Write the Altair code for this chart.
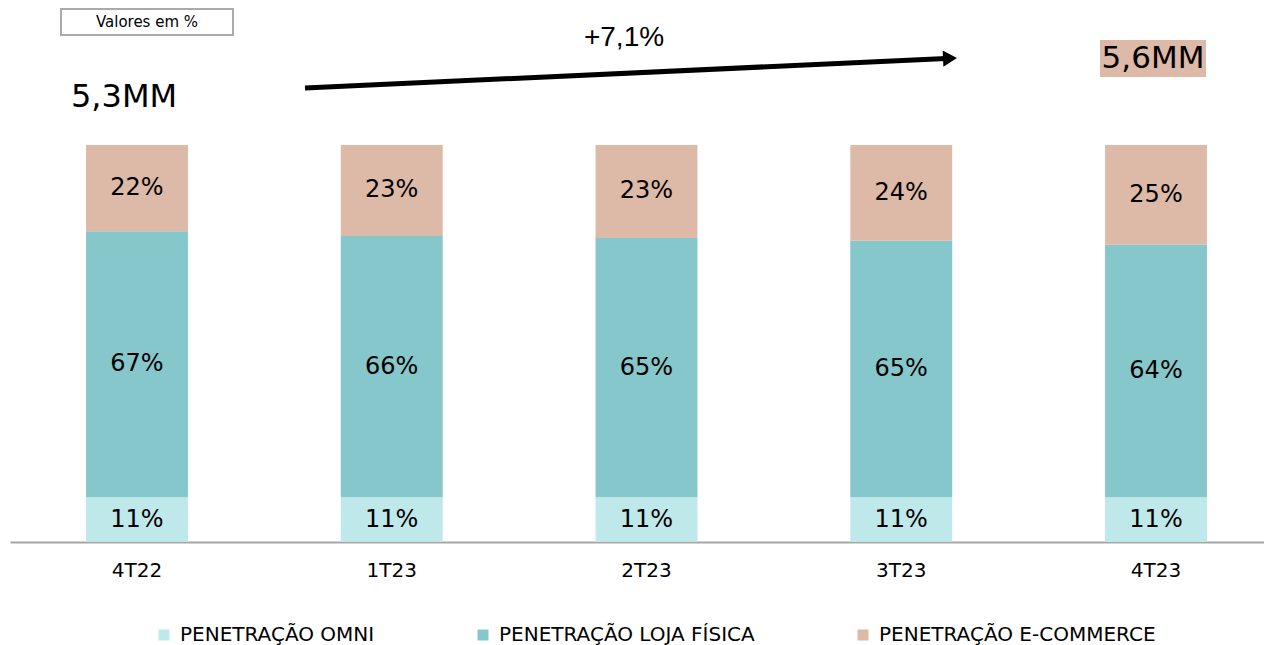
import altair as alt
import pandas as pd

# ---- data ----
periods = ["4T22", "1T23", "2T23", "3T23", "4T23"]
series = ["PENETRAÇÃO OMNI", "PENETRAÇÃO LOJA FÍSICA", "PENETRAÇÃO E-COMMERCE"]
omni = [11.3, 11.3, 11.3, 11.3, 11.3]
loja = [67.0, 65.8, 65.3, 64.6, 63.6]
ecom = [21.7, 22.9, 23.4, 24.1, 25.1]
colors = ["#BEE8EA", "#86C7CB", "#DDB9A7"]

units_note = ["Valores em %"]
start_label = ["5,3MM"]
end_label = ["5,6MM"]
growth_label = ["+7,1%"]

rows = []
for i, p in enumerate(periods):
    for k, (s, vals) in enumerate(zip(series, [omni, loja, ecom])):
        rows.append({"period": p, "series": s, "order": k, "value": vals[i]})
df = pd.DataFrame(rows)

FONT = "DejaVu Sans"

base = (
    alt.Chart(df)
    .transform_stack(
        stack="value",
        groupby=["period"],
        as_=["y0", "y1"],
        sort=[alt.SortField(field="order", order="ascending")],
    )
    .transform_calculate(
        mid="(datum.y0 + datum.y1) / 2",
        label="format(datum.value, '.0f') + '%'",
    )
)

x_enc = alt.X(
    "period:N",
    sort=periods,
    scale=alt.Scale(paddingInner=0.6, paddingOuter=0.2612, align=0.5714),
    axis=alt.Axis(
        title=None,
        labelAngle=0,
        ticks=False,
        tickSize=0,
        domainColor="#A6A6A6",
        domainWidth=2,
        labelFontSize=20,
        labelFont=FONT,
        labelColor="#000000",
        labelPadding=18,
        grid=False,
    ),
)
y_scale = alt.Scale(domain=[0, 100])

bars = base.mark_bar().encode(
    x=x_enc,
    y=alt.Y("y0:Q", scale=y_scale, axis=None),
    y2="y1:Q",
    color=alt.Color(
        "series:N",
        scale=alt.Scale(domain=series, range=colors),
        legend=alt.Legend(
            title=None,
            orient="none",
            legendX=144,
            legendY=480,
            direction="horizontal",
            columns=3,
            symbolType="square",
            symbolSize=121,
            symbolStrokeWidth=0,
            symbolOpacity=1,
            labelFont=FONT,
            labelFontSize=20,
            labelColor="#000000",
            columnPadding=98,
            labelOffset=6,
            labelLimit=600,
            padding=0,
        ),
    ),
)

texts = base.mark_text(font=FONT, fontSize=24, color="#000000").encode(
    x=alt.X("period:N", sort=periods),
    y=alt.Y("mid:Q", scale=y_scale, axis=None),
    text="label:N",
)

# ---- annotations ----
note_df = pd.DataFrame({"t": units_note})
note_box = alt.Chart(note_df).mark_rect(fill="white", stroke="#AAAAAA", strokeWidth=2).encode(
    x=alt.value(51), x2=alt.value(223), y=alt.value(-136), y2=alt.value(-110)
)
note_text = alt.Chart(note_df).mark_text(font=FONT, fontSize=15, color="#000000").encode(
    x=alt.value(137), y=alt.value(-123), text="t:N"
)

start_df = pd.DataFrame({"t": start_label})
start_text = alt.Chart(start_df).mark_text(
    font=FONT, fontSize=32, color="#000000", align="left", baseline="middle"
).encode(x=alt.value(61), y=alt.value(-48), text="t:N")

end_df = pd.DataFrame({"t": end_label})
end_box = alt.Chart(end_df).mark_rect(fill="#DDB9A7").encode(
    x=alt.value(1090), x2=alt.value(1196), y=alt.value(-105), y2=alt.value(-68)
)
end_text = alt.Chart(end_df).mark_text(
    font=FONT, fontSize=31, color="#000000", baseline="middle"
).encode(x=alt.value(1143), y=alt.value(-86), text="t:N")

growth_df = pd.DataFrame({"t": growth_label})
growth_text = alt.Chart(growth_df).mark_text(
    font="Liberation Sans", fontSize=28, color="#000000", baseline="middle"
).encode(x=alt.value(614), y=alt.value(-107), text="t:N")

arrow_line = alt.Chart(growth_df).mark_rule(color="#000000", strokeWidth=5).encode(
    x=alt.value(295), y=alt.value(-57), x2=alt.value(936), y2=alt.value(-86.5)
)
arrow_head = alt.Chart(growth_df).mark_point(
    shape="triangle-right", filled=True, color="#000000", size=260, opacity=1, angle=357.4
).encode(x=alt.value(940), y=alt.value(-86.7))

chart = (
    alt.layer(
        bars, texts, note_box, note_text, start_text, end_box, end_text,
        growth_text, arrow_line, arrow_head
    )
    .properties(
        width=1254,
        height=397,
        autosize=alt.AutoSizeParams(type="none"),
        padding={"left": 2, "top": 137, "right": 0, "bottom": 106},
        background="white",
    )
    .configure_view(strokeWidth=0)
)

chart.save("out.html", embed_options={"renderer": "svg", "actions": False})
